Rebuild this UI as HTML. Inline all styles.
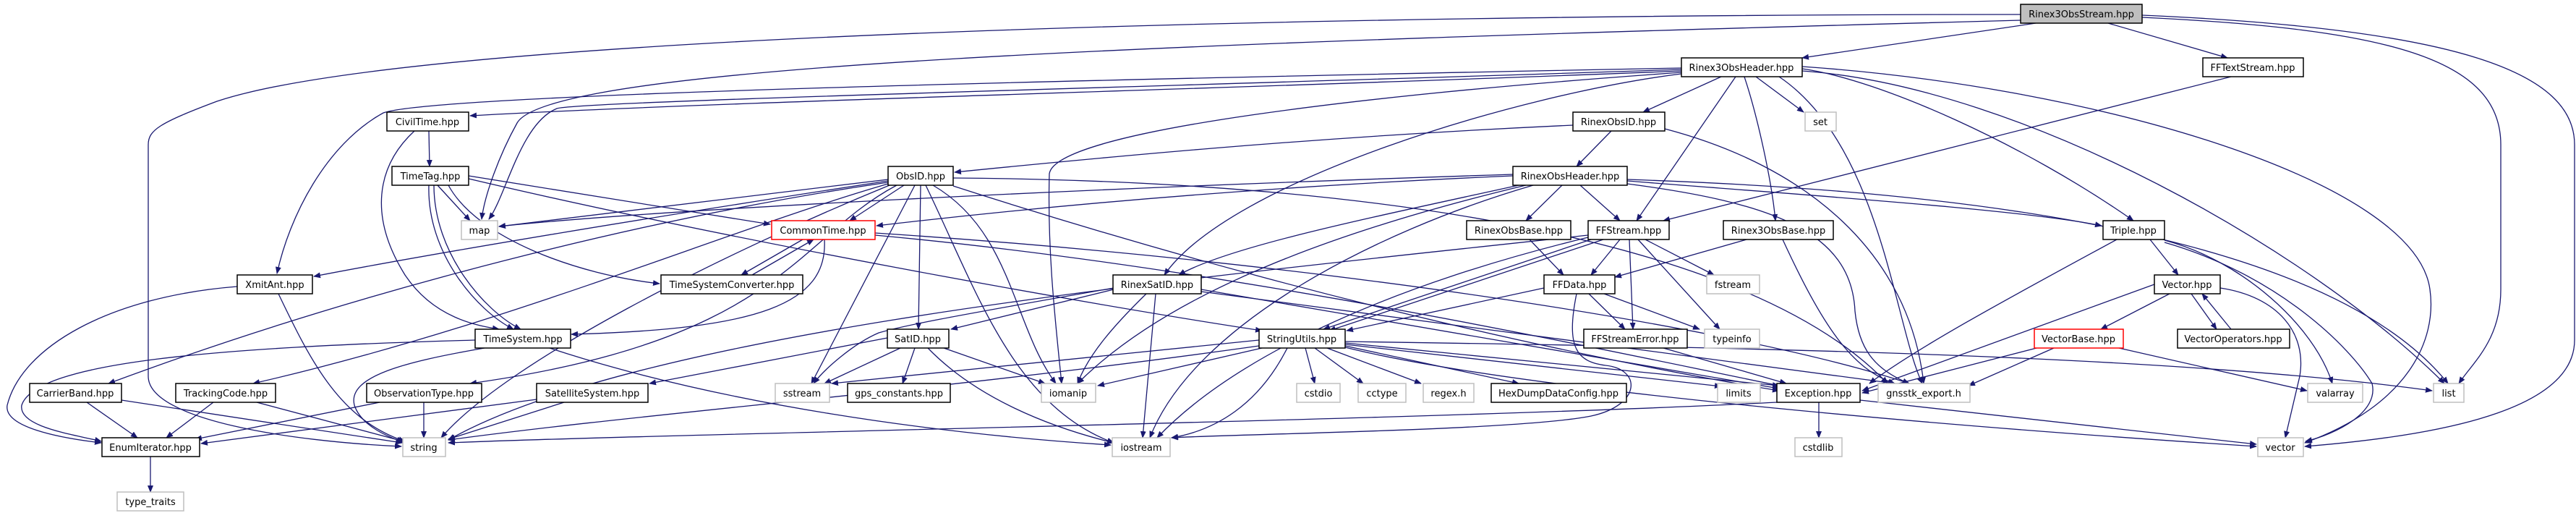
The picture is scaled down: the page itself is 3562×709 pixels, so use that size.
<!DOCTYPE html>
<html><head><meta charset="utf-8"><style>
html,body{margin:0;padding:0;background:#fff;}
svg{display:block;}
text{font-family:"DejaVu Sans","Liberation Sans",sans-serif;font-size:13px;fill:#000;}
.e{fill:none;stroke:#191970;stroke-width:1.3;marker-end:url(#a);}
.n{fill:#fff;stroke:#000;stroke-width:1.5;}
.g{fill:#fff;stroke:#bfbfbf;stroke-width:1.5;}
.r{fill:#fff;stroke:#ff0000;stroke-width:1.5;}
</style></head><body>
<svg width="3562" height="709" viewBox="0 0 3562 709" xmlns="http://www.w3.org/2000/svg">
<defs><marker id="a" markerWidth="10" markerHeight="8" refX="9" refY="4" orient="auto" markerUnits="userSpaceOnUse"><path d="M0,0 L10,4 L0,8 z" fill="#191970"/></marker></defs>
<g>
<path class="e" d="M2815,32 L2492,80"/>
<path class="e" d="M2915,32 L3080,80"/>
<path class="e" d="M2962,24 C3300,40 3458,80 3458,200 L3458,400 C3458,470 3420,500 3400,530"/>
<path class="e" d="M2962,21 C3400,40 3560,100 3560,200 L3560,470 C3560,560 3400,600 3187,617"/>
<path class="e" d="M2794,20 C2000,20 600,40 300,140 C220,170 205,180 205,200 L205,520 C205,580 400,610 555,617"/>
<path class="e" d="M2794,28 C1600,60 760,90 715,170 C690,215 670,270 666,303"/>
<path class="e" d="M2325,98 C1800,120 1000,140 650,160"/>
<path class="e" d="M2325,96 C1600,120 800,140 770,150 C720,170 700,270 676,303"/>
<path class="e" d="M2325,94 C1500,110 600,130 530,156 C450,200 400,300 383,378"/>
<path class="e" d="M2380,106 L2272,155"/>
<path class="e" d="M2428,106 L2494,155"/>
<path class="e" d="M2400,106 L2263,305"/>
<path class="e" d="M2412,106 C2430,160 2450,250 2455,305"/>
<path class="e" d="M2492,95 C2600,110 2800,200 2950,305"/>
<path class="e" d="M2492,98 C2800,120 3200,350 3380,530"/>
<path class="e" d="M2492,92 C2900,120 3340,250 3360,400 C3370,470 3330,560 3187,612"/>
<path class="e" d="M2460,106 C2600,200 2620,450 2658,530"/>
<path class="e" d="M2325,102 C2100,130 1700,250 1610,380"/>
<path class="e" d="M2325,100 C1900,130 1460,180 1451,240 C1448,350 1460,450 1468,530"/>
<path class="e" d="M2175,173 C1800,190 1500,220 1320,238"/>
<path class="e" d="M2302,178 C2500,230 2640,350 2660,530"/>
<path class="e" d="M2228,181 L2180,230"/>
<path class="e" d="M2160,256 L2110,305"/>
<path class="e" d="M2185,256 L2240,305"/>
<path class="e" d="M2250,250 C2500,270 2800,290 2906,312"/>
<path class="e" d="M2250,248 C2600,260 3200,300 3385,530"/>
<path class="e" d="M2250,254 C2450,280 2560,320 2565,430 C2570,480 2590,510 2640,530"/>
<path class="e" d="M2092,243 C1700,260 1400,290 1212,312"/>
<path class="e" d="M2092,241 C1500,260 900,290 690,313"/>
<path class="e" d="M2100,256 C1900,300 1700,340 1630,380"/>
<path class="e" d="M2110,256 C1800,330 1600,420 1490,530"/>
<path class="e" d="M2120,256 C1900,320 1650,450 1590,605"/>
<path class="e" d="M1228,248 L690,313"/>
<path class="e" d="M1228,250 C900,300 600,350 434,382"/>
<path class="e" d="M1250,256 L1175,305"/>
<path class="e" d="M1228,252 C900,300 500,400 150,530"/>
<path class="e" d="M1228,254 C1000,320 700,450 350,530"/>
<path class="e" d="M1240,256 C1100,330 1080,470 650,530"/>
<path class="e" d="M1273,256 L1270,455"/>
<path class="e" d="M1265,256 L1122,530"/>
<path class="e" d="M1290,256 C1400,320 1400,450 1460,530"/>
<path class="e" d="M1280,256 C1350,400 1400,560 1540,612"/>
<path class="e" d="M1318,257 C1700,380 2100,480 2460,540"/>
<path class="e" d="M1318,246 C1900,250 2420,330 2610,530"/>
<path class="e" d="M1230,256 C1000,350 700,500 610,605"/>
<path class="e" d="M605,256 L650,305"/>
<path class="e" d="M593,256 C590,350 660,430 710,455"/>
<path class="e" d="M600,256 C600,350 670,430 720,455"/>
<path class="e" d="M648,243 L1065,310"/>
<path class="e" d="M648,247 C1000,330 1500,420 1745,457"/>
<path class="e" d="M620,256 C660,330 800,380 912,392"/>
<path class="e" d="M593,181 L594,230"/>
<path class="e" d="M573,181 C520,230 510,300 560,380 C600,440 660,450 690,455"/>
<path class="e" d="M1110,331 L1025,380"/>
<path class="e" d="M1040,380 L1125,331"/>
<path class="e" d="M1140,331 C1145,420 1050,455 790,462"/>
<path class="e" d="M1210,325 C1700,370 2200,480 2470,535"/>
<path class="e" d="M1210,322 C1800,360 2400,450 2640,530"/>
<path class="e" d="M657,470 C300,480 50,500 30,560 C25,590 100,600 140,610"/>
<path class="e" d="M670,481 C560,500 480,520 490,560 C500,590 540,605 560,612"/>
<path class="e" d="M760,481 C1000,560 1300,600 1536,615"/>
<path class="e" d="M328,396 C150,410 30,480 10,560 C5,590 80,605 140,612"/>
<path class="e" d="M385,406 C430,500 470,580 560,610"/>
<path class="e" d="M120,556 L190,605"/>
<path class="e" d="M168,553 L556,612"/>
<path class="e" d="M295,556 L230,605"/>
<path class="e" d="M355,556 L558,610"/>
<path class="e" d="M525,556 L270,607"/>
<path class="e" d="M586,556 L586,605"/>
<path class="e" d="M742,552 L278,613"/>
<path class="e" d="M780,556 L620,607"/>
<path class="e" d="M208,631 L208,680"/>
<path class="e" d="M1227,467 L898,530"/>
<path class="e" d="M1245,481 L1140,530"/>
<path class="e" d="M1265,481 L1248,530"/>
<path class="e" d="M1305,481 L1445,530"/>
<path class="e" d="M1283,481 C1350,550 1450,590 1540,612"/>
<path class="e" d="M1540,400 L1315,455"/>
<path class="e" d="M1540,398 C1300,440 1250,450 1215,460 C1180,475 1140,510 1125,530"/>
<path class="e" d="M1585,406 C1540,450 1505,490 1490,530"/>
<path class="e" d="M1598,406 L1580,605"/>
<path class="e" d="M1661,400 L2460,537"/>
<path class="e" d="M1661,403 L2620,530"/>
<path class="e" d="M1741,470 L1150,530"/>
<path class="e" d="M1745,481 L1518,533"/>
<path class="e" d="M1780,481 C1740,560 1680,595 1620,605"/>
<path class="e" d="M1805,481 L1818,530"/>
<path class="e" d="M1818,481 L1885,530"/>
<path class="e" d="M1835,481 L1965,530"/>
<path class="e" d="M1860,478 L2100,530"/>
<path class="e" d="M1860,476 L2380,534"/>
<path class="e" d="M1860,474 L2460,533"/>
<path class="e" d="M1860,472 C2400,480 3000,490 3363,540"/>
<path class="e" d="M1860,480 C2100,540 2700,590 3120,617"/>
<path class="e" d="M1741,478 C1300,540 900,570 620,608"/>
<path class="e" d="M2240,331 L2200,380"/>
<path class="e" d="M2253,331 L2258,455"/>
<path class="e" d="M2275,331 L2370,380"/>
<path class="e" d="M2265,331 L2378,455"/>
<path class="e" d="M2217,331 L1838,457"/>
<path class="e" d="M2200,331 L1830,455"/>
<path class="e" d="M2196,325 C1700,380 900,450 620,608"/>
<path class="e" d="M2196,328 C1900,400 1700,500 1600,605"/>
<path class="e" d="M3085,106 L2300,305"/>
<path class="e" d="M2415,331 L2233,383"/>
<path class="e" d="M2465,331 C2520,450 2560,510 2620,530"/>
<path class="e" d="M2115,331 L2162,380"/>
<path class="e" d="M2135,398 L1862,457"/>
<path class="e" d="M2197,406 L2247,455"/>
<path class="e" d="M2218,406 L2350,455"/>
<path class="e" d="M2180,406 C2165,480 2180,500 2220,505 C2270,510 2270,560 2200,575 C2100,595 1700,600 1620,605"/>
<path class="e" d="M2300,481 L2470,530"/>
<path class="e" d="M2515,556 L2515,605"/>
<path class="e" d="M2457,556 C2000,580 900,600 620,612"/>
<path class="e" d="M2572,553 C2800,580 3000,600 3120,614"/>
<path class="e" d="M2973,331 L3012,380"/>
<path class="e" d="M2927,331 C2800,400 2650,480 2585,530"/>
<path class="e" d="M2993,332 C3100,360 3200,450 3225,530"/>
<path class="e" d="M2993,335 C3150,380 3250,480 3280,530 C3290,570 3230,600 3188,610"/>
<path class="e" d="M3000,406 L2905,455"/>
<path class="e" d="M3030,406 L3065,455"/>
<path class="e" d="M3085,455 L3045,406"/>
<path class="e" d="M3070,398 C3150,410 3190,460 3180,520 L3160,605"/>
<path class="e" d="M2979,393 L2575,540"/>
<path class="e" d="M2840,481 L2722,533"/>
<path class="e" d="M2930,481 L3190,540"/>
<path class="e" d="M2820,480 L2575,543"/>
</g>
<g text-anchor="middle">
<rect x="2794" y="6" width="168" height="26" fill="#bfbfbf" stroke="#000" stroke-width="1.5"/><text x="2878" y="24">Rinex3ObsStream.hpp</text>
<rect class="n" x="2325" y="80" width="167" height="26"/><text x="2408" y="98">Rinex3ObsHeader.hpp</text>
<rect class="n" x="3046" y="80" width="139" height="26"/><text x="3115" y="98">FFTextStream.hpp</text>
<rect class="n" x="535" y="155" width="113" height="26"/><text x="591" y="173">CivilTime.hpp</text>
<rect class="n" x="2175" y="155" width="127" height="26"/><text x="2238" y="173">RinexObsID.hpp</text>
<rect class="g" x="2496" y="155" width="43" height="26"/><text x="2517" y="173">set</text>
<rect class="n" x="542" y="230" width="106" height="26"/><text x="595" y="248">TimeTag.hpp</text>
<rect class="n" x="1228" y="230" width="90" height="26"/><text x="1273" y="248">ObsID.hpp</text>
<rect class="n" x="2092" y="230" width="158" height="26"/><text x="2171" y="248">RinexObsHeader.hpp</text>
<rect class="g" x="638" y="305" width="50" height="26"/><text x="663" y="323">map</text>
<rect class="r" x="1067" y="305" width="143" height="26"/><text x="1138" y="323">CommonTime.hpp</text>
<rect class="n" x="2028" y="305" width="144" height="26"/><text x="2100" y="323">RinexObsBase.hpp</text>
<rect class="n" x="2196" y="305" width="112" height="26"/><text x="2252" y="323">FFStream.hpp</text>
<rect class="n" x="2383" y="305" width="152" height="26"/><text x="2459" y="323">Rinex3ObsBase.hpp</text>
<rect class="n" x="2908" y="305" width="85" height="26"/><text x="2950" y="323">Triple.hpp</text>
<rect class="n" x="328" y="380" width="104" height="26"/><text x="380" y="398">XmitAnt.hpp</text>
<rect class="n" x="914" y="380" width="196" height="26"/><text x="1012" y="398">TimeSystemConverter.hpp</text>
<rect class="n" x="1539" y="380" width="122" height="26"/><text x="1600" y="398">RinexSatID.hpp</text>
<rect class="n" x="2135" y="380" width="98" height="26"/><text x="2184" y="398">FFData.hpp</text>
<rect class="g" x="2360" y="380" width="73" height="26"/><text x="2396" y="398">fstream</text>
<rect class="n" x="2979" y="380" width="91" height="26"/><text x="3024" y="398">Vector.hpp</text>
<rect class="n" x="657" y="455" width="132" height="26"/><text x="723" y="473">TimeSystem.hpp</text>
<rect class="n" x="1227" y="455" width="85" height="26"/><text x="1269" y="473">SatID.hpp</text>
<rect class="n" x="1741" y="455" width="119" height="26"/><text x="1800" y="473">StringUtils.hpp</text>
<rect class="n" x="2190" y="455" width="143" height="26"/><text x="2261" y="473">FFStreamError.hpp</text>
<rect class="g" x="2357" y="455" width="76" height="26"/><text x="2395" y="473">typeinfo</text>
<rect class="r" x="2813" y="455" width="123" height="26"/><text x="2874" y="473">VectorBase.hpp</text>
<rect class="n" x="3011" y="455" width="155" height="26"/><text x="3088" y="473">VectorOperators.hpp</text>
<rect class="n" x="41" y="530" width="127" height="26"/><text x="104" y="548">CarrierBand.hpp</text>
<rect class="n" x="243" y="530" width="138" height="26"/><text x="312" y="548">TrackingCode.hpp</text>
<rect class="n" x="507" y="530" width="159" height="26"/><text x="586" y="548">ObservationType.hpp</text>
<rect class="n" x="742" y="530" width="154" height="26"/><text x="819" y="548">SatelliteSystem.hpp</text>
<rect class="g" x="1072" y="530" width="75" height="26"/><text x="1109" y="548">sstream</text>
<rect class="n" x="1172" y="530" width="142" height="26"/><text x="1243" y="548">gps_constants.hpp</text>
<rect class="g" x="1440" y="530" width="75" height="26"/><text x="1477" y="548">iomanip</text>
<rect class="g" x="1793" y="530" width="60" height="26"/><text x="1823" y="548">cstdio</text>
<rect class="g" x="1878" y="530" width="66" height="26"/><text x="1911" y="548">cctype</text>
<rect class="g" x="1968" y="530" width="70" height="26"/><text x="2003" y="548">regex.h</text>
<rect class="n" x="2062" y="530" width="187" height="26"/><text x="2155" y="548">HexDumpDataConfig.hpp</text>
<rect class="g" x="2375" y="530" width="59" height="26"/><text x="2404" y="548">limits</text>
<rect class="n" x="2457" y="530" width="115" height="26"/><text x="2514" y="548">Exception.hpp</text>
<rect class="g" x="2597" y="530" width="127" height="26"/><text x="2660" y="548">gnsstk_export.h</text>
<rect class="g" x="3191" y="530" width="76" height="26"/><text x="3229" y="548">valarray</text>
<rect class="g" x="3365" y="530" width="42" height="26"/><text x="3386" y="548">list</text>
<rect class="n" x="141" y="605" width="135" height="26"/><text x="208" y="623">EnumIterator.hpp</text>
<rect class="g" x="557" y="605" width="59" height="26"/><text x="586" y="623">string</text>
<rect class="g" x="1538" y="605" width="80" height="26"/><text x="1578" y="623">iostream</text>
<rect class="g" x="2482" y="605" width="65" height="26"/><text x="2514" y="623">cstdlib</text>
<rect class="g" x="3122" y="605" width="63" height="26"/><text x="3153" y="623">vector</text>
<rect class="g" x="162" y="680" width="92" height="26"/><text x="208" y="698">type_traits</text>
</g>
</svg>
</body></html>
